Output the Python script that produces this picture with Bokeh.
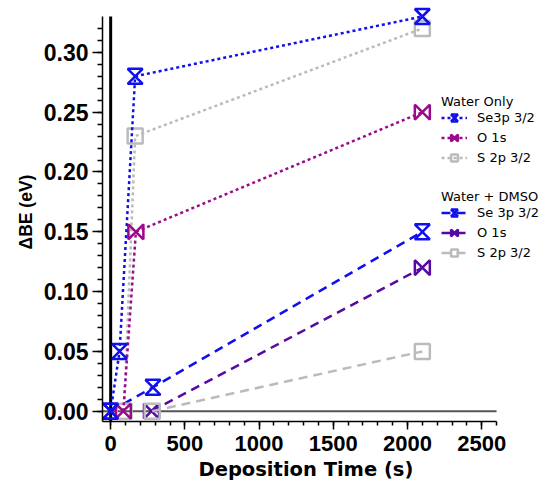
from bokeh.plotting import figure
from bokeh.models import (Legend, LegendItem, SingleIntervalTicker,
                          NumeralTickFormatter, Range1d, CustomJS, Scatter, Title)
from bokeh.core.properties import value
from bokeh.embed import file_html
from bokeh.resources import INLINE

# ---------------- data ----------------
# Water only
w_se_t = [0, 60, 165, 2100]
w_se_y = [0.0, 0.05, 0.28, 0.33]
w_o_t = [85, 170, 2100]
w_o_y = [0.0, 0.15, 0.25]
w_s_t = [90, 165, 2100]
w_s_y = [0.0, 0.23, 0.32]
# Water + DMSO
d_se_t = [0, 285, 2100]
d_se_y = [0.0, 0.02, 0.15]
d_o_t = [275, 2100]
d_o_y = [0.0, 0.12]
d_s_t = [280, 2100]
d_s_y = [0.0, 0.05]

labels_water = ["Se3p 3/2", "O 1s", "S 2p 3/2"]
labels_dmso = ["Se 3p 3/2", "O 1s", "S 2p 3/2"]

# axis extents (axis lines stop at X_AXIS_END / Y_AXIS_END; the view is a bit larger
# so that markers and the legend are not clipped)
X_MIN, X_AXIS_END, X_VIEW_END = -55, 2600, 2950
Y_MIN, Y_AXIS_END, Y_VIEW_END = -0.0086, 0.33, 0.3417

BLUE = "#1010EE"
MAGENTA = "#9C0A8C"
PURPLE = "#560AA3"
GRAY = "#BBBBBB"

p = figure(width=550, height=483, output_backend="svg", toolbar_location=None,
           x_range=Range1d(X_MIN, X_VIEW_END), y_range=Range1d(Y_MIN, Y_VIEW_END),
           min_border_left=102, min_border_right=2, min_border_top=2,
           min_border_bottom=62)
p.outline_line_color = None
p.xgrid.visible = False
p.ygrid.visible = False
p.background_fill_color = "white"

# axes
xa = p.xaxis[0]
xa.ticker = SingleIntervalTicker(interval=500, num_minor_ticks=5)
xa.bounds = (X_MIN, X_AXIS_END)
ya = p.yaxis[0]
ya.ticker = SingleIntervalTicker(interval=0.05, num_minor_ticks=5)
ya.formatter = NumeralTickFormatter(format="0.00")
ya.bounds = (Y_MIN, Y_AXIS_END)
for ax in (xa, ya):
    ax.axis_line_width = 1.5
    ax.axis_line_color = "black"
    ax.major_tick_in = 0
    ax.minor_tick_in = 0
    ax.major_tick_out = 10
    ax.minor_tick_out = 5
    ax.major_tick_line_width = 1.5
    ax.minor_tick_line_width = 1.5
    ax.major_label_text_font = "Liberation Sans"
    ax.major_label_text_font_style = "bold"
    ax.major_label_text_color = "black"
    ax.axis_label_text_font_style = "bold"
    ax.axis_label_text_color = "black"
xa.major_tick_out = 8
xa.minor_tick_out = 4
xa.major_label_text_font_size = "22px"
xa.major_label_standoff = 6
ya.major_label_text_font_size = "23px"
ya.major_label_standoff = 4
ya.axis_label = "ΔBE (eV)"
ya.axis_label_text_font = "Liberation Sans"
ya.axis_label_text_font_size = "17.5px"
ya.axis_label_standoff = 5

# x axis title (placed under the axis, aligned like the reference)
xt = Title(text="Deposition Time (s)", align="left", offset=96, standoff=5,
           text_font="DejaVu Sans", text_font_size="19.5px",
           text_font_style="bold", text_color="black")
p.add_layout(xt, "below")

# zero lines
p.line([0, 0], [Y_MIN, Y_AXIS_END], line_color="black", line_width=3,
       level="underlay")
p.line([X_MIN, X_AXIS_END], [0, 0], line_color="#555555", line_width=2,
       level="underlay")

# custom markers
DRAW = """
const stroke = (ctx, i, visuals) => {
  const L = visuals.line
  if (typeof L.apply === "function") L.apply(ctx, i)
  else { L.set_vectorize(ctx, i); ctx.stroke() }
}
const draw = (ctx, i, r, visuals) => {
  %s
  stroke(ctx, i, visuals)
}
if (typeof cb_data !== "undefined" && cb_data != null && cb_data.ctx != null) {
  draw(cb_data.ctx, cb_data.i, cb_data.r, cb_data.visuals)
  return
}
return draw
"""
HOURGLASS = DRAW % "ctx.moveTo(-r, -r); ctx.lineTo(r, -r); ctx.lineTo(-r, r); ctx.lineTo(r, r); ctx.closePath();"
BOWTIE = DRAW % "ctx.moveTo(-r, -r); ctx.lineTo(-r, r); ctx.lineTo(r, -r); ctx.lineTo(r, r); ctx.closePath();"

CUSTOM = "defs" in Scatter.properties()
defs = {"@hourglass": CustomJS(code=HOURGLASS), "@bowtie": CustomJS(code=BOWTIE)}


def add_series(t, y, color, dash, kind):
    ln = p.line(t, y, line_color=color, line_width=2.5, line_dash=dash)
    kw = dict(size=15, fill_color=None, line_color=color, line_width=2.5)
    sc = None
    if kind == "square":
        sc = p.scatter(t, y, marker="square", **kw)
    elif CUSTOM:
        try:
            sc = p.scatter(t, y, marker=value("@" + kind), defs=defs, **kw)
        except Exception:
            sc = None
    if sc is None:
        sc = p.scatter(t, y, marker="x" if kind == "hourglass" else "square_pin", **kw)
    return [ln, sc]


DMSO_DASH = "9 6"
WATER_DASH = "3 3"
d_se = add_series(d_se_t, d_se_y, BLUE, DMSO_DASH, "hourglass")
d_o = add_series(d_o_t, d_o_y, PURPLE, DMSO_DASH, "bowtie")
d_s = add_series(d_s_t, d_s_y, GRAY, DMSO_DASH, "square")
w_s = add_series(w_s_t, w_s_y, GRAY, WATER_DASH, "square")
w_o = add_series(w_o_t, w_o_y, MAGENTA, WATER_DASH, "bowtie")
w_se = add_series(w_se_t, w_se_y, BLUE, WATER_DASH, "hourglass")


def make_legend(title, labels, groups, loc):
    leg = Legend(items=[LegendItem(label=l, renderers=g) for l, g in zip(labels, groups)],
                 title=title, location=loc)
    leg.title_text_font = "DejaVu Sans"
    leg.title_text_font_size = "13px"
    leg.title_text_font_style = "normal"
    leg.title_text_color = "black"
    leg.title_standoff = 0
    leg.label_text_font = "DejaVu Sans"
    leg.label_text_font_size = "13px"
    leg.label_text_color = "black"
    leg.glyph_width = 26
    leg.glyph_height = 17
    leg.label_height = 17
    leg.spacing = 3
    leg.padding = 0
    leg.margin = 0
    leg.label_standoff = 10
    leg.border_line_color = None
    leg.background_fill_alpha = 0
    return leg


p.add_layout(make_legend("Water Only", labels_water, [w_se, w_o, w_s], (339, 255)), "center")
p.add_layout(make_legend("Water + DMSO", labels_dmso, [d_se, d_o, d_s], (339, 160)), "center")

open("out.html", "w").write(file_html(p, INLINE))
